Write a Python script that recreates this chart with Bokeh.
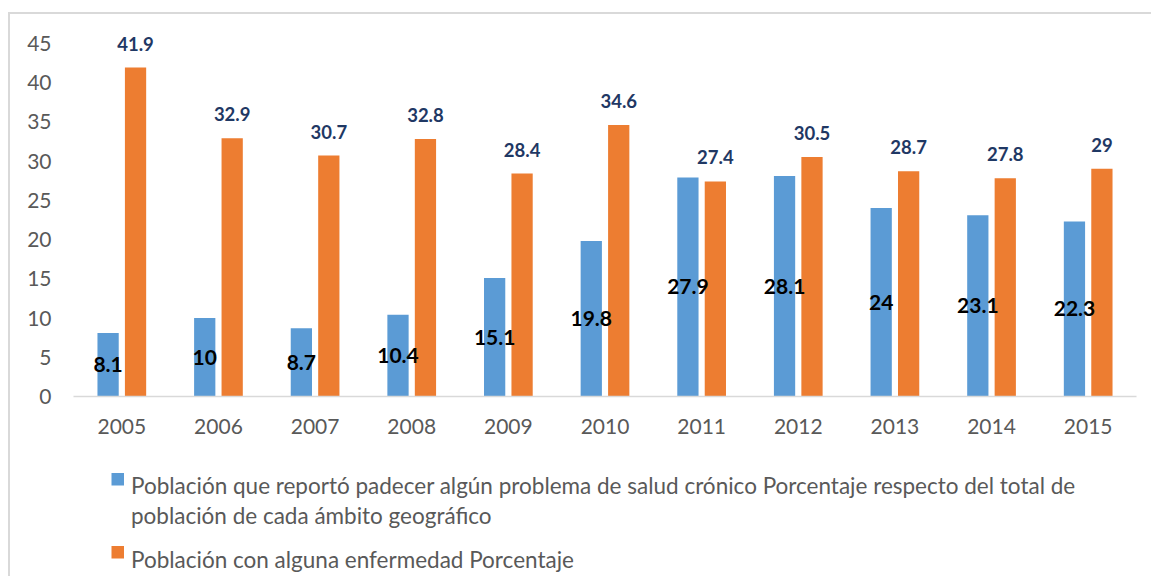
from bokeh.plotting import figure
from bokeh.layouts import column
from bokeh.models import FactorRange, Range1d, ColumnDataSource, FixedTicker
from bokeh.transform import dodge
from bokeh.embed import file_html
from bokeh.resources import INLINE
from bokeh.core.properties import value

years = ["2005", "2006", "2007", "2008", "2009", "2010", "2011", "2012", "2013", "2014", "2015"]
cronico = [8.1, 10, 8.7, 10.4, 15.1, 19.8, 27.9, 28.1, 24, 23.1, 22.3]
enfermedad = [41.9, 32.9, 30.7, 32.8, 28.4, 34.6, 27.4, 30.5, 28.7, 27.8, 29]
cronico_labels = ["8.1", "10", "8.7", "10.4", "15.1", "19.8", "27.9", "28.1", "24", "23.1", "22.3"]
enfermedad_labels = ["41.9", "32.9", "30.7", "32.8", "28.4", "34.6", "27.4", "30.5", "28.7", "27.8", "29"]
y_ticks = [0, 5, 10, 15, 20, 25, 30, 35, 40, 45]
legend_blue_lines = ["Población que reportó padecer algún problema de salud crónico Porcentaje respecto del total de",
                     "población de cada ámbito geográfico"]
legend_orange = "Población con alguna enfermedad Porcentaje"

BLUE = "#5B9BD5"
ORANGE = "#ED7D31"
NAVY = "#1F3864"
GRAY = "#595959"
FONT = "Lato"
W = 1141
BL, BR = 63, 15

src = ColumnDataSource(dict(
    x=years, c=cronico, e=enfermedad,
    c_mid=[v / 2 for v in cronico],
    cl=cronico_labels, el=enfermedad_labels,
))

p = figure(
    x_range=FactorRange(*years), y_range=Range1d(0, 47.9),
    width=W, height=442,
    output_backend="svg", toolbar_location=None,
    min_border_left=BL, min_border_right=BR, min_border_top=6, min_border_bottom=60,
)

p.vbar(x=dodge("x", -0.142, range=p.x_range), top="c", width=0.22, source=src,
       fill_color=BLUE, line_color=None)
p.vbar(x=dodge("x", 0.142, range=p.x_range), top="e", width=0.22, source=src,
       fill_color=ORANGE, line_color=None)

p.text(x=dodge("x", -0.142, range=p.x_range), y="c_mid", text="cl", source=src,
       text_align="center", text_baseline="middle", text_font=value(FONT),
       text_font_style="bold", text_font_size="21px", text_color="black")
p.text(x=dodge("x", 0.142, range=p.x_range), y="e", text="el", source=src,
       y_offset=-24, text_align="center", text_baseline="middle", text_font=value(FONT),
       text_font_style="bold", text_font_size="18.5px", text_color=NAVY)

p.xgrid.grid_line_color = None
p.ygrid.grid_line_color = None
p.outline_line_color = None
p.background_fill_color = "white"
p.border_fill_color = "white"

p.xaxis.axis_line_color = "#D9D9D9"
p.xaxis.axis_line_width = 1.5
p.xaxis.major_tick_line_color = None
p.xaxis.minor_tick_line_color = None
p.xaxis.major_label_text_color = GRAY
p.xaxis.major_label_text_font = FONT
p.xaxis.major_label_text_font_size = "21px"
p.xaxis.major_label_standoff = 16

p.yaxis.ticker = FixedTicker(ticks=y_ticks)
p.yaxis.axis_line_color = None
p.yaxis.major_tick_line_color = None
p.yaxis.minor_tick_line_color = None
p.yaxis.major_label_text_color = GRAY
p.yaxis.major_label_text_font = FONT
p.yaxis.major_label_text_font_size = "21px"
p.yaxis.major_label_standoff = 16

# legend panel below the chart (canvas pixel coordinates, y downward)
LH = 120
leg = figure(width=W, height=LH, x_range=Range1d(BL, W - BR), y_range=Range1d(LH, 0),
             output_backend="svg", toolbar_location=None,
             x_axis_type=None, y_axis_type=None,
             min_border_left=BL, min_border_right=BR,
             min_border_top=0, min_border_bottom=0)
leg.outline_line_color = None
leg.xgrid.grid_line_color = None
leg.ygrid.grid_line_color = None
leg.background_fill_color = "white"
leg.border_fill_color = "white"

leg.rect(x=[107.25, 107.25], y=[22.75, 95.75], width=12.5, height=12.5,
         fill_color=[BLUE, ORANGE], line_color=None)
leg.text(x=[120.5, 120.5, 120.5], y=[29.3, 59.0, 102.7],
         text=legend_blue_lines + [legend_orange],
         text_align="left", text_baseline="alphabetic", text_font=value(FONT),
         text_font_size="22.5px", text_color=GRAY)

layout = column(p, leg, spacing=0)
layout.styles = {"margin-left": "8px", "margin-top": "12px",
                 "border-top": "2px solid #D9D9D9", "border-left": "2px solid #D9D9D9"}

open("out.html", "w").write(file_html(layout, INLINE))
